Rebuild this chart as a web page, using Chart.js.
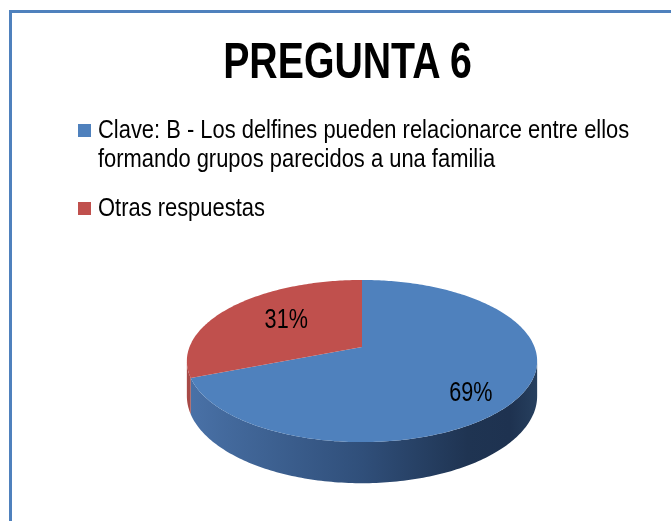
<!DOCTYPE html>
<html><head><meta charset="utf-8">
<script src="https://cdn.jsdelivr.net/npm/chart.js@4"></script>
<style>
html,body{margin:0;padding:0;width:671px;height:521px;overflow:hidden;background:#fff;}
#frame{position:absolute;left:9px;top:10px;width:800px;height:800px;border-left:3px solid #4f81bd;border-top:3px solid #4f81bd;}
#c{position:absolute;left:0;top:0;}
#title{position:absolute;left:0;width:695px;top:31px;text-align:center;font-family:'Liberation Sans',Arial,sans-serif;font-weight:bold;font-size:50px;line-height:60px;color:#000;transform:scaleX(0.785);transform-origin:347.5px 0;white-space:nowrap;}
#legend{position:absolute;left:0;top:0;font-family:'Liberation Sans',Arial,sans-serif;font-size:26px;line-height:29px;color:#000;}
.item{position:absolute;left:78px;}
.box{position:absolute;left:0;top:9px;width:13px;height:13px;}
.txt{position:absolute;left:20px;top:0;width:680px;transform:scaleX(0.843);transform-origin:0 0;}
</style></head>
<body>
<div id="frame"></div>
<canvas id="c" width="695" height="521"></canvas>
<div id="title"></div>
<div id="legend"></div>
<script>
// ---- data ----
const categories = ['Clave: B - Los delfines pueden relacionarce entre ellos formando grupos parecidos a una familia', 'Otras respuestas'];
const percentages = [69, 31];
const percentLabels = ['69%', '31%'];
const chartTitle = 'PREGUNTA 6';
const sliceColors = ['#4f81bd', '#c0504d'];

const FONT = "'Liberation Sans',Arial,sans-serif";

const sideStops = [
  [[0,'#4a72a8'],[0.12,'#43699c'],[0.5,'#304f7a'],[0.8,'#1f3452'],[0.92,'#1e3250'],[1,'#27405f']],
  [[0,'#a84a47'],[0.12,'#9c4340'],[0.5,'#7a3432'],[0.8,'#552523'],[1,'#5f2a28']]
];

const pie3d = {
  id: 'pie3d',
  beforeDatasetsDraw(chart, args, opts) {
    const ctx = chart.ctx;
    const meta = chart.getDatasetMeta(0);
    const area = chart.chartArea;
    const cx = (area.left + area.right) / 2, cy = (area.top + area.bottom) / 2;
    const rx = (area.right - area.left) / 2, ry = rx * opts.tilt, p = opts.perspective, h = rx * opts.depth;
    const proj = (a, f, dz) => {
      const u = Math.cos(a) * f, v = Math.sin(a) * f;
      const k = 1 / (1 - p * v);
      return [cx + rx * u * k, cy + (ry * v + dz) * k];
    };
    const aR = Math.asin(p), aL = Math.PI - Math.asin(p);
    const TWO = Math.PI * 2;
    ctx.save();
    // sides
    meta.data.forEach((el, i) => {
      const s = el.startAngle, e = el.endAngle;
      for (let n = -1; n <= 1; n++) {
        const lo = Math.max(s, aR + TWO * n), hi = Math.min(e, aL + TWO * n);
        if (hi <= lo) continue;
        const N = Math.max(8, Math.ceil((hi - lo) * 60));
        ctx.beginPath();
        for (let j = 0; j <= N; j++) {
          const a = lo + (hi - lo) * j / N;
          const pt = proj(a, 1, 0);
          j === 0 ? ctx.moveTo(pt[0], pt[1]) : ctx.lineTo(pt[0], pt[1]);
        }
        for (let j = N; j >= 0; j--) {
          const a = lo + (hi - lo) * j / N;
          const pt = proj(a, 1, h);
          ctx.lineTo(pt[0], pt[1]);
        }
        ctx.closePath();
        const g = ctx.createLinearGradient(cx - rx * 1.02, 0, cx + rx * 1.02, 0);
        sideStops[i].forEach(st => g.addColorStop(st[0], st[1]));
        ctx.fillStyle = g;
        ctx.fill();
      }
    });
    // top faces
    meta.data.forEach((el, i) => {
      const s = el.startAngle, e = el.endAngle;
      const N = Math.max(8, Math.ceil((e - s) * 60));
      ctx.beginPath();
      const c0 = proj(0, 0, 0);
      ctx.moveTo(c0[0], c0[1]);
      for (let j = 0; j <= N; j++) {
        const pt = proj(s + (e - s) * j / N, 1, 0);
        ctx.lineTo(pt[0], pt[1]);
      }
      ctx.closePath();
      ctx.fillStyle = el.options.backgroundColor;
      ctx.fill();
    });
    // labels (condensed look via horizontal scaling)
    ctx.fillStyle = '#000';
    ctx.font = '27px ' + FONT;
    ctx.textAlign = 'center';
    ctx.textBaseline = 'middle';
    meta.data.forEach((el, i) => {
      const mid = (el.startAngle + el.endAngle) / 2;
      const pt = proj(mid, opts.labelRadius[i], 0);
      ctx.save();
      ctx.translate(pt[0], pt[1] + opts.labelShiftY[i]);
      ctx.scale(0.8, 1);
      ctx.fillText(percentLabels[i], 0, 0);
      ctx.restore();
    });
    ctx.restore();
    return false;
  }
};

const chart = new Chart(document.getElementById('c'), {
  type: 'pie',
  data: {
    labels: categories,
    datasets: [{ data: percentages, backgroundColor: sliceColors, borderWidth: 0 }]
  },
  options: {
    responsive: false,
    animation: false,
    devicePixelRatio: 1,
    events: [],
    layout: { padding: { left: 189.5, right: 160.5, top: 230, bottom: 57 } },
    plugins: {
      legend: { display: false },
      tooltip: { enabled: false },
      title: { display: false },
      pie3d: { tilt: 0.456, perspective: 0.173, depth: 0.197, labelRadius: [0.71, 0.56], labelShiftY: [13, -3] }
    }
  },
  plugins: [pie3d]
});

document.getElementById('title').textContent = chartTitle;

// HTML legend built from the data arrays
const legend = document.getElementById('legend');
const legendTops = [114.5, 192.5];
categories.forEach((name, i) => {
  const item = document.createElement('div');
  item.className = 'item';
  item.style.top = legendTops[i] + 'px';
  const box = document.createElement('div');
  box.className = 'box';
  box.style.background = sliceColors[i];
  const txt = document.createElement('div');
  txt.className = 'txt';
  txt.textContent = name;
  item.appendChild(box);
  item.appendChild(txt);
  legend.appendChild(item);
});
</script>
</body></html>
